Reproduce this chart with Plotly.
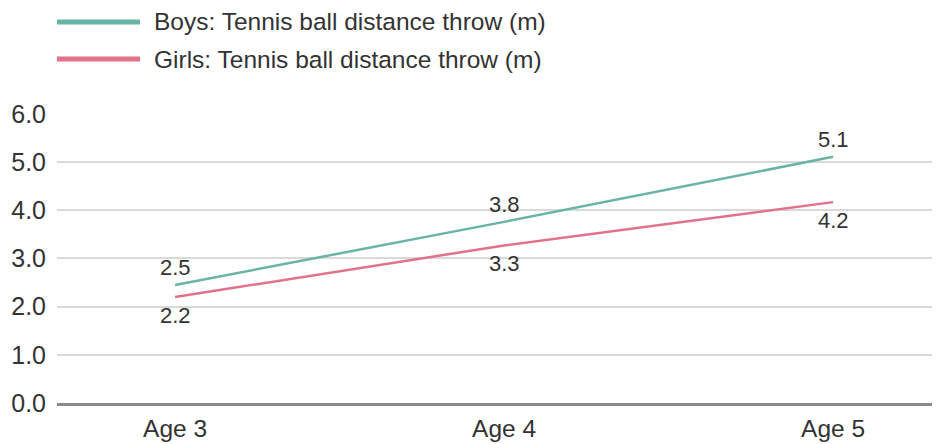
import plotly.graph_objects as go

categories = ["Age 3", "Age 4", "Age 5"]
boys = [2.45, 3.76, 5.11]
girls = [2.2, 3.27, 4.17]
boys_name = "Boys: Tennis ball distance throw (m)"
girls_name = "Girls: Tennis ball distance throw (m)"
y_ticks = [0, 1, 2, 3, 4, 5, 6]

BOYS_C = "#69b3a7"
GIRLS_C = "#e2728a"
TEXT_C = "#333333"
FONT = "Liberation Sans, Arial, sans-serif"

# page body has an 8px margin, so the figure is drawn 8px smaller/offset
W, H = 932, 436
ML, MR, MT, MB = 49, 0, 105, 41
PW, PH = W - ML - MR, H - MT - MB


def px(x):
    return (x - ML) / PW


def py(y):
    return (H - MB - y) / PH


fig = go.Figure()
fig.add_trace(go.Scatter(x=categories, y=boys, mode="lines", name=boys_name,
                         line=dict(color=BOYS_C, width=2.5), showlegend=False,
                         hoverinfo="skip"))
fig.add_trace(go.Scatter(x=categories, y=girls, mode="lines", name=girls_name,
                         line=dict(color=GIRLS_C, width=2.5), showlegend=False,
                         hoverinfo="skip"))

annotations = []
for c, v in zip(categories, boys):
    annotations.append(dict(x=c, y=v, xref="x", yref="y", text=f"{v:.1f}",
                            showarrow=False, yshift=17,
                            font=dict(size=22, color=TEXT_C, family=FONT)))
for c, v in zip(categories, girls):
    annotations.append(dict(x=c, y=v, xref="x", yref="y", text=f"{v:.1f}",
                            showarrow=False, yshift=-18,
                            font=dict(size=22, color=TEXT_C, family=FONT)))

# custom legend
shapes = []
for i, (name, col) in enumerate([(boys_name, BOYS_C), (girls_name, GIRLS_C)]):
    yy = 14 + i * 37
    shapes.append(dict(type="line", xref="paper", yref="paper",
                       x0=px(49), x1=px(132), y0=py(yy), y1=py(yy),
                       line=dict(color=col, width=5)))
    annotations.append(dict(xref="paper", yref="paper", x=px(144), y=py(yy),
                            xanchor="left", yanchor="middle", showarrow=False,
                            text=name, font=dict(size=24.5, color=TEXT_C, family=FONT)))

fig.update_layout(
    width=W, height=H,
    margin=dict(l=ML, r=MR, t=MT, b=MB),
    paper_bgcolor="white", plot_bgcolor="white",
    font=dict(family=FONT, color=TEXT_C, size=24),
    showlegend=False,
    annotations=annotations,
    shapes=shapes,
    xaxis=dict(type="category", range=[-0.359, 2.325], showgrid=False,
               showline=True, linecolor="#8a8a8a", linewidth=3,
               ticks="", ticklabelstandoff=2,
               tickfont=dict(size=24.5, color=TEXT_C), fixedrange=True),
    yaxis=dict(range=[0, 6.02], tickvals=y_ticks,
               ticktext=[f"{t:.1f}" for t in y_ticks],
               showgrid=True, gridcolor="#d9d9d9", gridwidth=2,
               zeroline=False, showline=False, ticks="",
               ticklabelstandoff=10,
               tickfont=dict(size=25, color=TEXT_C), fixedrange=True),
)

fig.write_html("out.html")
